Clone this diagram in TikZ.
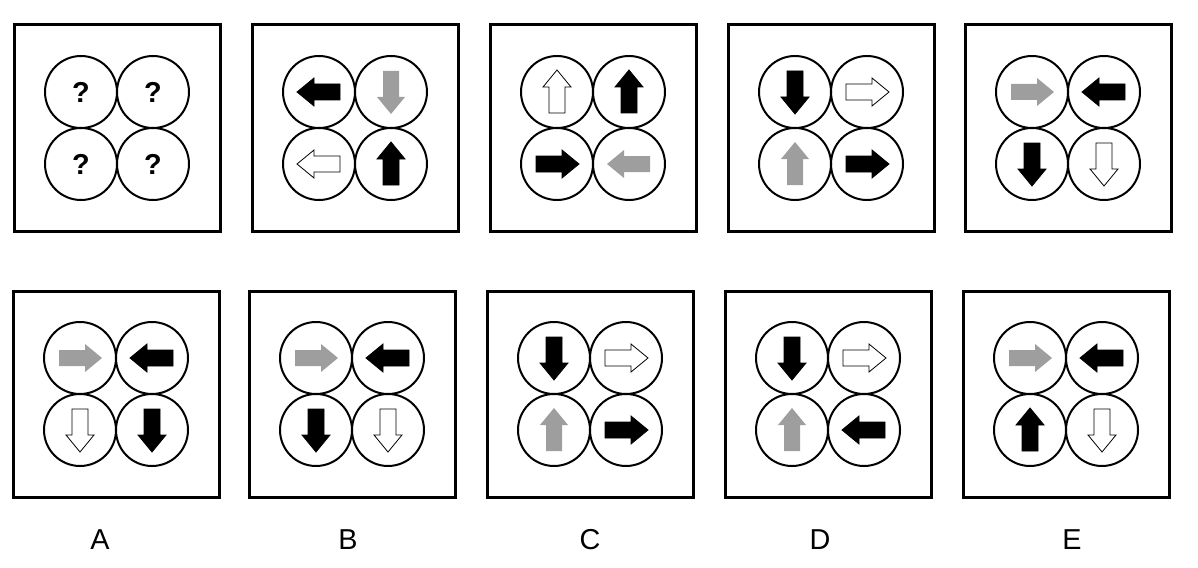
\documentclass[tikz,border=0pt]{standalone}
\usepackage{fontspec}
\setmainfont{Liberation Sans}
\usepackage{tikz}
\usetikzlibrary{calc}

\tikzset{
  box/.style={draw, line width=1.5pt, minimum size=103pt, inner sep=0pt},
  ring/.style={circle, draw, line width=1pt, minimum size=36pt, inner sep=0pt},
  blk/.style={fill=black, draw=black},
  gry/.style={fill=black!38, draw=none},
  wht/.style={fill=white, draw=black, line width=0.4pt},
  pics/arr/.style={code={\path[#1] (-21,-8)--(5,-8)--(5,-14)--(22,0)--(5,14)--(5,8)--(-21,8)--cycle;}}
}
% one panel: name, centre x, centre y
\newcommand\panel[3]{%
  \node[box] (#1) at (#2,#3) {};
  \node[ring] (#1-a) at ($(#1)+(-36,-36)$) {};
  \node[ring] (#1-b) at ($(#1)+(36,-36)$) {};
  \node[ring] (#1-c) at ($(#1)+(-36,36)$) {};
  \node[ring] (#1-d) at ($(#1)+(36,36)$) {};
}
\newcommand\cel[3]{\pic[rotate=#3] at (#1) {arr=#2};}

\begin{document}
\begin{tikzpicture}[x=0.5pt, y=-0.5pt]
		\useasboundingbox (0,0) rectangle (1198,567);
		% question row
		\panel{q1}{117}{128}
		\panel{q2}{355}{128}
		\panel{q3}{593}{128}
		\panel{q4}{831}{128}
		\panel{q5}{1068}{128}
		\foreach \c in {a,b,c,d}
			\node[font=\bfseries\Large] at (q1-\c) {?};
		\cel{q2-a}{blk}{180} \cel{q2-b}{gry}{270} \cel{q2-c}{wht}{180} \cel{q2-d}{blk}{90}
		\cel{q3-a}{wht}{90} \cel{q3-b}{blk}{90} \cel{q3-c}{blk}{0} \cel{q3-d}{gry}{180}
		\cel{q4-a}{blk}{270} \cel{q4-b}{wht}{0} \cel{q4-c}{gry}{90} \cel{q4-d}{blk}{0}
		\cel{q5-a}{gry}{0} \cel{q5-b}{blk}{180} \cel{q5-c}{blk}{270} \cel{q5-d}{wht}{270}
		% answer row
		\panel{pA}{116}{394}
		\panel{pB}{352}{394}
		\panel{pC}{590}{394}
		\panel{pD}{828}{394}
		\panel{pE}{1066}{394}
		\cel{pA-a}{gry}{0} \cel{pA-b}{blk}{180} \cel{pA-c}{wht}{270} \cel{pA-d}{blk}{270}
		\cel{pB-a}{gry}{0} \cel{pB-b}{blk}{180} \cel{pB-c}{blk}{270} \cel{pB-d}{wht}{270}
		\cel{pC-a}{blk}{270} \cel{pC-b}{wht}{0} \cel{pC-c}{gry}{90} \cel{pC-d}{blk}{0}
		\cel{pD-a}{blk}{270} \cel{pD-b}{wht}{0} \cel{pD-c}{gry}{90} \cel{pD-d}{blk}{180}
		\cel{pE-a}{gry}{0} \cel{pE-b}{blk}{180} \cel{pE-c}{blk}{90} \cel{pE-d}{wht}{270}
		\foreach \l/\x in {A/100,B/348,C/590,D/820,E/1072}
			\node[font=\Large] (lab\l) at (\x,540) {\l};
	\end{tikzpicture}
\end{document}
